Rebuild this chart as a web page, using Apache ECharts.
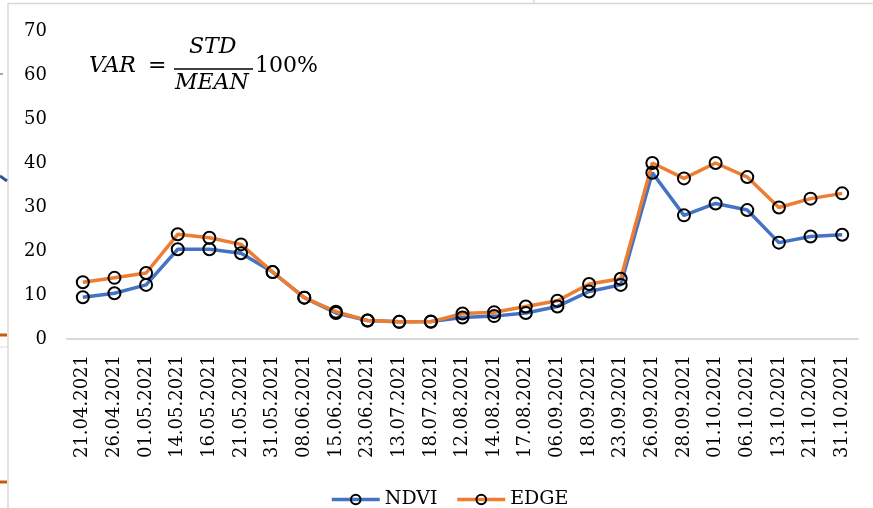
<!DOCTYPE html>
<html>
<head>
<meta charset="utf-8">
<script src="https://cdn.jsdelivr.net/npm/echarts@6/dist/echarts.min.js"></script>
<style>
html,body{margin:0;padding:0;background:#fff;}
#chart{width:873px;height:508px;}
</style>
</head>
<body>
<div id="chart"></div>
<script>
// Observation dates (2021)
const dates = ['21.04.2021','26.04.2021','01.05.2021','14.05.2021','16.05.2021','21.05.2021','31.05.2021',
  '08.06.2021','15.06.2021','23.06.2021','13.07.2021','18.07.2021','12.08.2021','14.08.2021','17.08.2021',
  '06.09.2021','18.09.2021','23.09.2021','26.09.2021','28.09.2021','01.10.2021','06.10.2021','13.10.2021',
  '21.10.2021','31.10.2021'];

// Coefficient of variation, %
const ndvi = [9.5, 10.4, 12.3, 20.4, 20.4, 19.5, 15.2, 9.4, 5.9, 4.2, 3.9, 4.0, 4.9, 5.2, 5.9,
  7.4, 10.8, 12.3, 37.8, 28.1, 30.8, 29.3, 21.9, 23.3, 23.7];
const edge = [12.9, 13.9, 15.0, 23.8, 23.0, 21.5, 15.2, 9.4, 6.2, 4.2, 3.9, 3.9, 5.8, 6.1, 7.4,
  8.7, 12.5, 13.7, 40.0, 36.5, 40.0, 36.8, 29.9, 31.9, 33.1];

const yTicks = [0, 10, 20, 30, 40, 50, 60, 70];

const serif = '"DejaVu Serif", serif';
const chart = echarts.init(document.getElementById('chart'));

function lineSeries(name, data, color) {
  return {
    name: name,
    type: 'line',
    data: data,
    symbol: 'circle',
    symbolSize: 12,
    z: 2,
    lineStyle: { color: color, width: 3.5 },
    itemStyle: { color: 'rgba(0,0,0,0)', borderColor: '#000', borderWidth: 2 },
    emphasis: { disabled: true }
  };
}

const mathFont = 'italic 22px "DejaVu Serif", serif';

chart.setOption({
  animation: false,
  backgroundColor: '#fff',
  grid: { left: 67, right: 15, top: 31, bottom: 169, containLabel: false },
  xAxis: {
    type: 'category',
    data: dates,
    boundaryGap: true,
    axisLine: { show: true, lineStyle: { color: '#d9d9d9', width: 2 } },
    axisTick: { show: false },
    axisLabel: { rotate: 90, color: '#000', fontFamily: serif, fontSize: 18, margin: 16, interval: 0 }
  },
  yAxis: {
    type: 'value',
    min: yTicks[0],
    max: yTicks[yTicks.length - 1],
    interval: 10,
    splitLine: { show: false },
    axisLine: { show: false },
    axisTick: { show: false },
    axisLabel: { color: '#000', fontFamily: serif, fontSize: 18, margin: 20 }
  },
  legend: {
    top: 485,
    left: 325,
    itemWidth: 48,
    itemHeight: 12,
    itemGap: 18,
    lineStyle: { width: 3.5 },
    itemStyle: { borderWidth: 2 },
    textStyle: { color: '#000', fontFamily: serif, fontSize: 19 },
    data: ['NDVI', 'EDGE']
  },
  series: [
    lineSeries('NDVI', ndvi, '#4472C4'),
    lineSeries('EDGE', edge, '#ED7D31')
  ],
  graphic: [
    // page frame
    { type: 'line', shape: { x1: 8, y1: 3.5, x2: 873, y2: 3.5 }, style: { stroke: '#d9d9d9', lineWidth: 1.5 } },
    { type: 'line', shape: { x1: 8, y1: 3, x2: 8, y2: 508 }, style: { stroke: '#d9d9d9', lineWidth: 1.5 } },
    { type: 'line', shape: { x1: 534, y1: 0, x2: 534, y2: 3 }, style: { stroke: '#d9d9d9', lineWidth: 1.5 } },
    { type: 'line', shape: { x1: 0, y1: 347, x2: 8, y2: 347 }, style: { stroke: '#d9d9d9', lineWidth: 1 } },
    { type: 'line', shape: { x1: 0, y1: 74, x2: 3, y2: 74 }, style: { stroke: '#555', lineWidth: 1 } },
    { type: 'line', shape: { x1: 0, y1: 335, x2: 7, y2: 335 }, style: { stroke: '#C55A11', lineWidth: 3 } },
    { type: 'line', shape: { x1: 0, y1: 482, x2: 7, y2: 482 }, style: { stroke: '#C55A11', lineWidth: 3 } },
    { type: 'line', shape: { x1: 0, y1: 176, x2: 7, y2: 181 }, style: { stroke: '#2F5597', lineWidth: 3 } },
    // formula: VAR = STD / MEAN 100%
    { type: 'text', left: 89, top: 55, style: { text: 'VAR', font: mathFont, fill: '#000' } },
    { type: 'text', left: 148, top: 55, style: { text: '=', font: '22px "DejaVu Serif", serif', fill: '#000' } },
    { type: 'text', left: 189, top: 36, style: { text: 'STD', font: mathFont, fill: '#000' } },
    { type: 'line', shape: { x1: 174, y1: 69, x2: 253, y2: 69 }, style: { stroke: '#000', lineWidth: 1.5 } },
    { type: 'text', left: 175, top: 72, style: { text: 'MEAN', font: mathFont, fill: '#000' } },
    { type: 'text', left: 255, top: 55, style: { text: '100%', font: '22px "DejaVu Serif", serif', fill: '#000' } }
  ]
});
</script>
</body>
</html>
